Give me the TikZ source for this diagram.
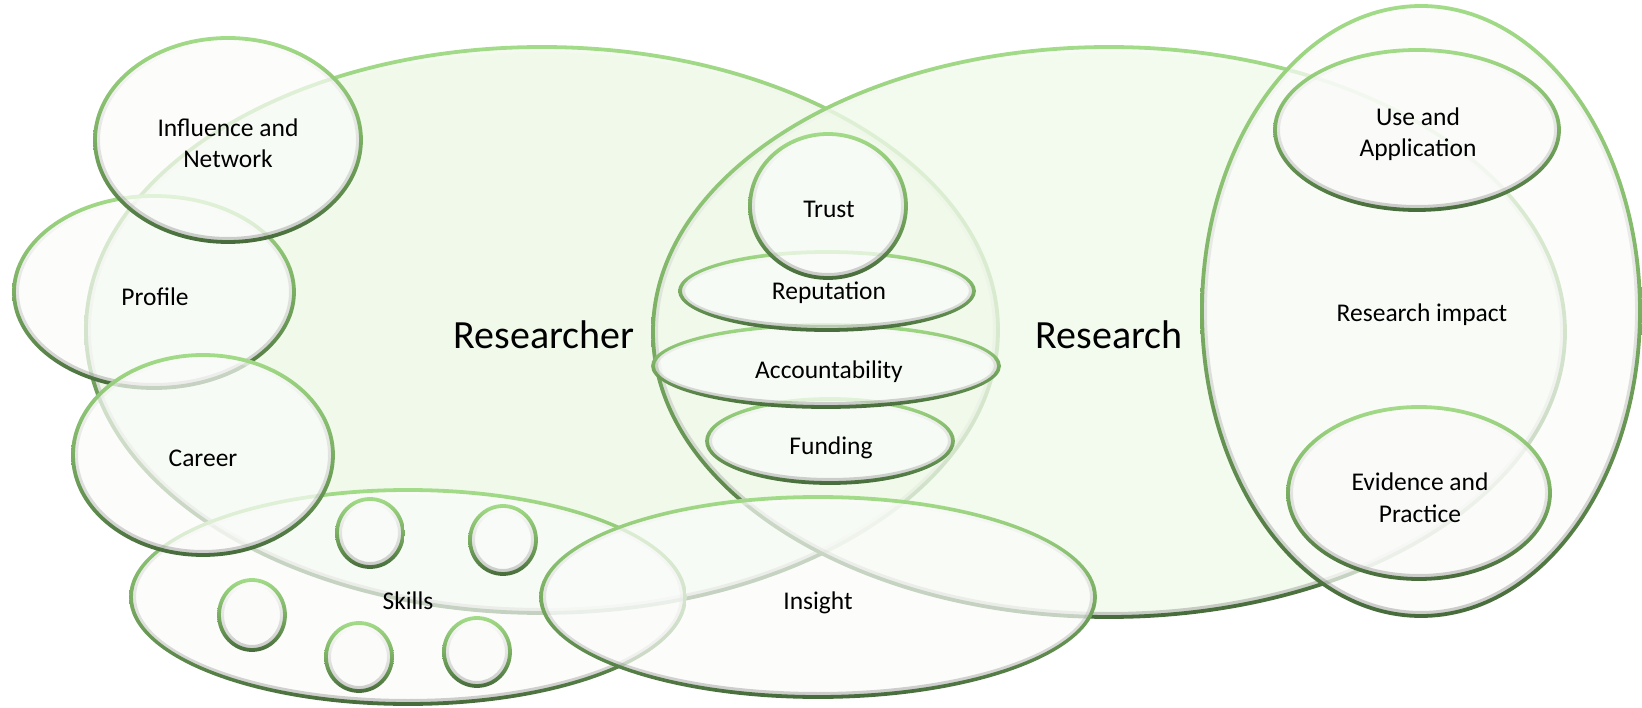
\documentclass[tikz,border=0pt]{standalone}
\usepackage{fontspec}
\setmainfont{Carlito}
\definecolor{edgelight}{HTML}{A3DC88}
\definecolor{edgemid}{HTML}{7AAE62}
\definecolor{edgedark}{HTML}{476B3B}
\definecolor{bigfill}{HTML}{F0F9EA}
\definecolor{smallfill}{HTML}{FBFCFA}
\tikzset{
  smalltext/.style={font=\fontsize{25.5}{31.5}\selectfont, text=black, inner sep=0pt, align=center},
  bigtext/.style={font=\fontsize{40}{48}\selectfont, text=black, inner sep=0pt},
}
\newcommand\vennshape[6]{%
  \fill[#5, fill opacity=#6] (#1,#2) ellipse [x radius=#3, y radius=#4];
  \shade[top color=white, bottom color=black!55, fill opacity=0.35, even odd rule]
    (#1,#2) ellipse [x radius=#3-1, y radius=#4-1]
    (#1,#2) ellipse [x radius=#3-5, y radius=#4-5];
  \shade[top color=edgelight, bottom color=edgedark, middle color=edgemid, even odd rule]
    (#1,#2) ellipse [x radius=#3+1.9, y radius=#4+1.9]
    (#1,#2) ellipse [x radius=#3-1.9, y radius=#4-1.9];
}
\begin{document}
\begin{tikzpicture}[x=1pt,y=-1pt]
\fill[white] (0,0) rectangle (1642,708);
\useasboundingbox (0,0) rectangle (1642,708);
% big ellipses
\vennshape{542}{330}{456}{283}{bigfill}{1}
\vennshape{1109}{332}{456}{285}{bigfill}{0.8}
% skills
\vennshape{408}{597}{277}{107}{smallfill}{0.7}
\vennshape{370}{533}{33}{34}{smallfill}{0.7}
\vennshape{503}{540}{33}{34}{smallfill}{0.7}
\vennshape{252}{615}{33}{35}{smallfill}{0.7}
\vennshape{359}{657}{33}{34}{smallfill}{0.7}
\vennshape{477}{652}{33}{34}{smallfill}{0.7}
% left circles
\vennshape{154}{292}{140}{96}{smallfill}{0.7}
\vennshape{228}{140}{133}{102}{smallfill}{0.7}
\vennshape{203}{455}{130}{100}{smallfill}{0.7}
% insight
\vennshape{818}{597}{277}{100}{smallfill}{0.7}
% research impact
\vennshape{1421}{311}{219}{305}{smallfill}{0.7}
\vennshape{1417}{130}{142}{80}{smallfill}{0.7}
\vennshape{1419}{493}{131}{86}{smallfill}{0.7}
% centre stack
\vennshape{830}{441}{123}{42}{smallfill}{0.7}
\vennshape{826}{366}{173}{41}{smallfill}{0.7}
\vennshape{827}{291}{147}{39}{smallfill}{0.7}
\vennshape{828}{206}{78}{72}{smallfill}{0.7}
% texts
\node[bigtext, anchor=base] (researcher) at (544,349) {Researcher};
\node[bigtext, anchor=base] (research) at (1109,349) {Research};
\node[smalltext, anchor=base] (trust) at (829,218) {Trust};
\node[smalltext, anchor=base] (reputation) at (829,300) {Reputation};
\node[smalltext, anchor=base] (accountability) at (829,379) {Accountability};
\node[smalltext, anchor=base] (funding) at (831,455) {Funding};
\node[smalltext, anchor=base] (insight) at (818,609) {Insight};
\node[smalltext, anchor=base] (skills) at (408,609) {Skills};
\node[smalltext, anchor=base] (influence) at (228,168) {Influence and\\Network};
\node[smalltext, anchor=base] (profile) at (155,306) {Profile};
\node[smalltext, anchor=base] (career) at (203,467) {Career};
\node[smalltext, anchor=base] (useapp) at (1418,157) {Use and\\Application};
\node[smalltext, anchor=base] (impact) at (1422,322) {Research impact};
\node[smalltext, anchor=base] (evidence) at (1420,522) {Evidence and\\Practice};
\end{tikzpicture}
\end{document}
